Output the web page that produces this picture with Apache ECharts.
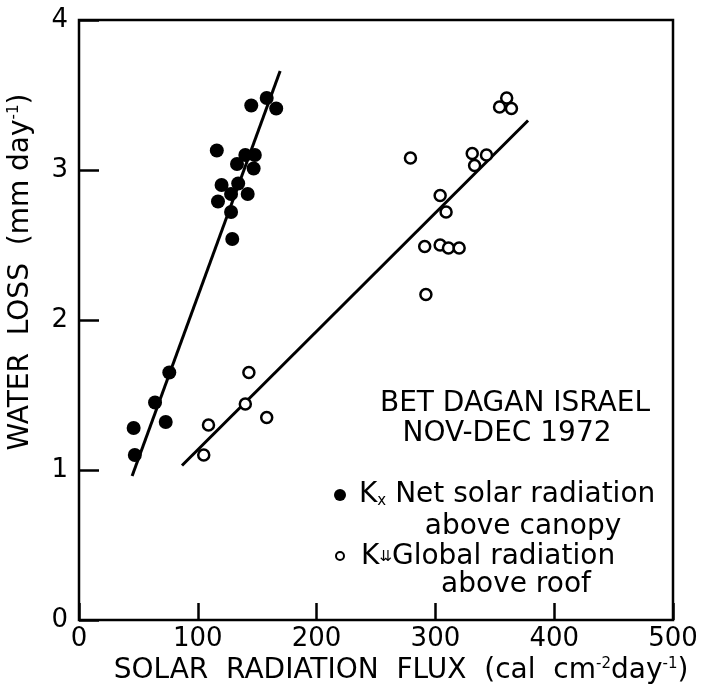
<!DOCTYPE html>
<html>
<head>
<meta charset="utf-8">
<script src="https://cdn.jsdelivr.net/npm/echarts@6/dist/echarts.min.js"></script>
<style>
  html, body { margin: 0; padding: 0; background: #fff; }
  #chart { width: 705px; height: 691px; }
</style>
</head>
<body>
<div id="chart"></div>
<script>
// net solar radiation above canopy (filled dots)
const netX = [46, 47, 64, 73, 76, 116, 117, 120, 128, 128, 129, 133, 134, 140, 142, 145, 147, 148, 158, 166];
const netY = [1.28, 1.10, 1.45, 1.32, 1.65, 3.13, 2.79, 2.90, 2.84, 2.72, 2.54, 3.04, 2.91, 3.10, 2.84, 3.43, 3.01, 3.10, 3.48, 3.41];
// global radiation above roof (open circles)
const globX = [105, 109, 140, 143, 158, 279, 291, 292, 304, 304, 309, 311, 320, 331, 333, 343, 354, 360, 364];
const globY = [1.10, 1.30, 1.44, 1.65, 1.35, 3.08, 2.49, 2.17, 2.83, 2.50, 2.72, 2.48, 2.48, 3.11, 3.03, 3.10, 3.42, 3.48, 3.41];
// fitted lines (end points)
const netFitX = [44.7, 169.3];
const netFitY = [0.96, 3.66];
const globFitX = [86.7, 378];
const globFitY = [1.03, 3.33];

const xTicks = [0, 100, 200, 300, 400, 500];
const yTicks = [0, 1, 2, 3, 4];

const pairs = (xs, ys) => xs.map((x, i) => [x, ys[i]]);

const FONT = 'DejaVu Sans';
const supStyle = { fontSize: 15, verticalAlign: 'top', padding: [0, 0, 12, 0], fontFamily: FONT, color: '#000' };
const chart = echarts.init(document.getElementById('chart'), null, { renderer: 'canvas' });

const option = {
  backgroundColor: '#fff',
  animation: false,
  grid: {
    left: 79, right: 32, top: 20, bottom: 71, outerBoundsMode: 'none',
    show: true, borderColor: '#000', borderWidth: 2.5
  },
  xAxis: {
    type: 'value', min: xTicks[0], max: xTicks[xTicks.length - 1], interval: 100,
    axisLine: { show: false },
    axisTick: { inside: true, length: 17, lineStyle: { color: '#000', width: 2.5 } },
    splitLine: { show: false },
    axisLabel: { color: '#000', fontFamily: FONT, fontSize: 26, margin: 6 },
    name: 'SOLAR  RADIATION  FLUX  (cal  cm{sup|-2}day{sup|-1})',
    nameLocation: 'middle', nameGap: 36,
    nameTextStyle: {
      color: '#000', fontFamily: FONT, fontSize: 28, padding: [0, 0, 0, 50],
      rich: { sup: supStyle }
    }
  },
  yAxis: {
    type: 'value', min: yTicks[0], max: yTicks[yTicks.length - 1], interval: 1,
    axisLine: { show: false },
    axisTick: { inside: true, length: 20, lineStyle: { color: '#000', width: 2.5 } },
    splitLine: { show: false },
    axisLabel: { color: '#000', fontFamily: FONT, fontSize: 26, margin: 11 },
    name: 'WATER  LOSS  (mm day{sup|-1})',
    nameLocation: 'middle', nameGap: 44,
    nameTextStyle: {
      color: '#000', fontFamily: FONT, fontSize: 28, padding: [0, 0, 0, 96],
      rich: { sup: supStyle }
    }
  },
  series: [
    {
      type: 'line', data: pairs(netFitX, netFitY), symbol: 'none',
      lineStyle: { color: '#000', width: 3 }, z: 2
    },
    {
      type: 'line', data: pairs(globFitX, globFitY), symbol: 'none',
      lineStyle: { color: '#000', width: 3 }, z: 2
    },
    {
      type: 'scatter', data: pairs(netX, netY), symbol: 'circle', symbolSize: 14,
      itemStyle: { color: '#000', opacity: 1 }, z: 3
    },
    {
      type: 'scatter', data: pairs(globX, globY), symbol: 'circle', symbolSize: 11,
      itemStyle: { color: '#fff', borderColor: '#000', borderWidth: 2.5, opacity: 1 }, z: 3
    }
  ],
  graphic: [
    { type: 'text', x: 515, y: 404, style: { text: 'BET DAGAN ISRAEL', font: '28px "DejaVu Sans"', fill: '#000', align: 'center', verticalAlign: 'middle' } },
    { type: 'text', x: 507, y: 434, style: { text: 'NOV-DEC 1972', font: '28px "DejaVu Sans"', fill: '#000', align: 'center', verticalAlign: 'middle' } },
    { type: 'circle', shape: { cx: 340, cy: 495, r: 6 }, style: { fill: '#000' } },
    {
      type: 'text', x: 359, y: 495,
      style: {
        text: 'K{sub|x} Net solar radiation', font: '28px "DejaVu Sans"', fill: '#000', verticalAlign: 'middle',
        rich: { sub: { fontSize: 15, verticalAlign: 'bottom', fontFamily: FONT, fill: '#000' } }
      }
    },
    { type: 'text', x: 523, y: 527, style: { text: 'above canopy', font: '28px "DejaVu Sans"', fill: '#000', align: 'center', verticalAlign: 'middle' } },
    { type: 'circle', shape: { cx: 340, cy: 556, r: 4 }, style: { fill: '#fff', stroke: '#000', lineWidth: 2 } },
    {
      type: 'text', x: 361, y: 557,
      style: {
        text: 'K{arr|⇊}Global radiation', font: '28px "DejaVu Sans"', fill: '#000', verticalAlign: 'middle',
        rich: { arr: { fontSize: 15, fontFamily: FONT, fill: '#000' } }
      }
    },
    { type: 'text', x: 516, y: 585, style: { text: 'above roof', font: '28px "DejaVu Sans"', fill: '#000', align: 'center', verticalAlign: 'middle' } }
  ]
};
chart.setOption(option);
</script>
</body>
</html>
